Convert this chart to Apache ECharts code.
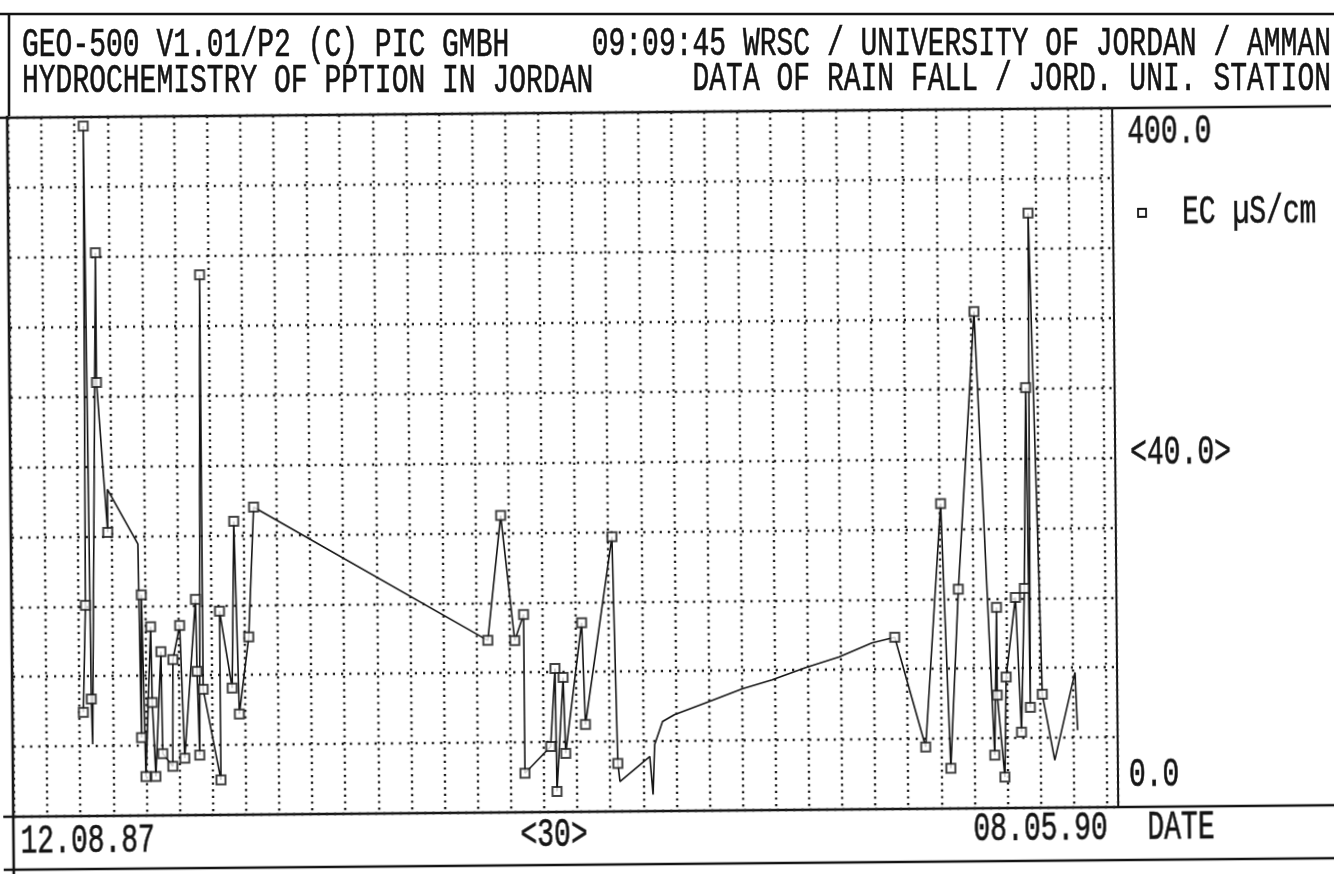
<!DOCTYPE html>
<html>
<head>
<meta charset="utf-8">
<script src="https://cdn.jsdelivr.net/npm/echarts@6/dist/echarts.min.js"></script>
<style>
  html, body { margin: 0; padding: 0; background: #fff; overflow: hidden; }
  #plot, #head { position: absolute; left: 0; top: 0; width: 1334px; height: 874px; }
  /* the plotter sheet sits slightly skewed on the page */
  #plot { transform: rotate(-0.5deg); transform-origin: 667px 437px; }
</style>
</head>
<body>
<div id="plot"></div>
<div id="head"></div>
<script>
// Electrical conductivity of rain water, Jordan University station.
// Day offsets are counted from 12.08.87; the record ends 08.05.90 (day 1000).
const traceDays = [
  63.4, 66.1, 67.9, 70.7, 71.6, 77.9, 77.9, 86.9, 86.9, 114.1,
  115.9, 116.8, 119.6, 125.0, 125.9, 128.6, 134.1, 135.0, 144.0, 144.9,
  151.3, 154.9, 165.8, 166.7, 168.5, 172.1, 172.1, 187.5, 187.5, 198.4,
  201.1, 204.7, 213.8, 219.2,
  430.3, 442.9, 454.7, 462.9, 462.9, 486.4, 490.9, 491.8, 498.2, 500.0,
  515.4, 518.1, 543.5, 547.1, 548.9, 576.1, 578.8, 580.6, 587.9, 598.7,
  629.5, 660.3, 687.5, 717.4, 748.2, 778.1, 798.9,
  826.1, 841.5, 848.7, 856.9, 873.2, 888.6, 891.3, 891.3, 897.6, 899.5,
  908.5, 913.0, 916.7, 919.4, 921.2, 923.0, 932.1, 942.9, 961.9, 963.8
];
// EC in µS/cm at each trace vertex
const ecValues = [
  59.4, 120.6, 394.9, 66.9, 41.1, 322.3, 248.0, 162.3, 186.9, 155.4,
  44.6, 126.3, 22.3, 108.0, 64.6, 22.3, 93.7, 35.4, 28.0, 89.1,
  108.6, 32.6, 123.4, 82.3, 34.3, 309.1, 72.0, 20.0, 116.6, 72.6,
  168.0, 57.7, 101.7, 176.0,
  98.5, 169.9, 98.3, 113.1, 22.3, 37.5, 82.1, 11.8, 76.9, 33.5,
  108.2, 49.9, 157.2, 27.4, 17.1, 31.3, 9.5, 38.1, 51.2, 55.1,
  62.3, 69.5, 74.5, 81.2, 87.3, 95.1, 98.3,
  35.3, 174.6, 23.1, 125.4, 284.2, 30.3, 114.9, 64.6, 17.7, 74.9,
  120.5, 43.3, 125.6, 240.5, 57.5, 340.4, 64.9, 27.1, 77.3, 44.2
];
// 1 = analysed sample (plotted with a marker), 0 = pen path only
const isSample = [
  1, 1, 1, 1, 0, 1, 1, 1, 0, 0,
  1, 1, 1, 1, 1, 1, 1, 1, 1, 1,
  1, 1, 1, 1, 1, 1, 1, 1, 1, 1,
  1, 1, 1, 1,
  1, 1, 1, 1, 1, 1, 1, 1, 1, 1,
  1, 1, 1, 1, 0, 0, 0, 0, 0, 0,
  0, 0, 0, 0, 0, 0, 1,
  1, 1, 1, 1, 1, 1, 1, 1, 1, 1,
  1, 1, 1, 1, 1, 1, 1, 0, 0, 0
];

const dateLabels = ['12.08.87', '<30>', '08.05.90'];   // start, step in days, end
const xAxisName = 'DATE';
const ecLabels = ['400.0', '<40.0>', '0.0'];           // top, step, bottom
const seriesName = 'EC µS/cm';
const headerLeft = ['GEO-500 V1.01/P2 (C) PIC GMBH', 'HYDROCHEMISTRY OF PPTION IN JORDAN'];
const headerRight = ['09:09:45 WRSC / UNIVERSITY OF JORDAN / AMMAN', 'DATA OF RAIN FALL / JORD. UNI. STATION'];

const trace = traceDays.map((d, i) => [d, ecValues[i]]);
const samples = trace.filter((p, i) => isSample[i] === 1);

const INK = '#141414';
const FONT = '28px "Liberation Mono", "DejaVu Sans Mono", monospace';
const G = { left: 11, top: 112, width: 1104, height: 699 };
const G_RIGHT = G.left + G.width, G_BOTTOM = G.top + G.height;

function txt(x, y, text, align) {
  return {
    type: 'text', x: x, y: y, scaleY: 1.42, silent: true,
    style: { text: text, font: FONT, fill: INK, stroke: INK, lineWidth: 0.45,
             align: align || 'left', verticalAlign: 'middle',
             textAlign: align || 'left', textVerticalAlign: 'middle' }
  };
}
function hline(y, x1, x2, w) {
  return { type: 'line', silent: true, shape: { x1: x1, y1: y, x2: x2, y2: y }, style: { stroke: INK, lineWidth: w || 2.6 } };
}
function vline(x, y1, y2, w) {
  return { type: 'line', silent: true, shape: { x1: x, y1: y1, x2: x, y2: y2 }, style: { stroke: INK, lineWidth: w || 2.6 } };
}

const plot = echarts.init(document.getElementById('plot'));
plot.setOption({
  animation: false,
  backgroundColor: 'transparent',
  grid: { left: G.left, top: G.top, width: G.width, height: G.height, show: false },
  xAxis: {
    type: 'value', min: 0, max: 1000, interval: 30,
    axisLine: { show: false }, axisTick: { show: false }, axisLabel: { show: false },
    splitLine: { show: true, lineStyle: { color: '#1e1e1e', width: 2.4, type: [2.2, 4.4] } }
  },
  yAxis: {
    type: 'value', min: 0, max: 400, interval: 40,
    axisLine: { show: false }, axisTick: { show: false }, axisLabel: { show: false },
    splitLine: { show: true, lineStyle: { color: '#1e1e1e', width: 2.4, type: [2.2, 6] } }
  },
  series: [
    { type: 'line', name: seriesName, data: trace, symbol: 'none', z: 3,
      lineStyle: { color: INK, width: 1.6 } },
    { type: 'scatter', name: seriesName, data: samples, symbol: 'rect', symbolSize: 9, z: 4,
      itemStyle: { color: '#fff', borderColor: INK, borderWidth: 2 } }
  ],
  graphic: [
    hline(G.top, -20, 1360),
    hline(G_BOTTOM, -20, 1360),
    hline(864, -20, 1360),
    vline(G_RIGHT, G.top, G_BOTTOM, 2),
    vline(10, G.top - 2, 890),
    txt(G_RIGHT + 15, G.top + 24, ecLabels[0]),
    txt(G_RIGHT + 15, G.top + G.height / 2 - 4, ecLabels[1]),
    txt(G_RIGHT + 11, G_BOTTOM - 32, ecLabels[2]),
    { type: 'rect', silent: true, shape: { x: 1140, y: 213, width: 8, height: 8 },
      style: { fill: '#fff', stroke: INK, lineWidth: 1.8 } },
    txt(1184, 217, seriesName),
    txt(17, 836, dateLabels[0]),
    txt(517, 834, dateLabels[1]),
    txt(970, 832, dateLabels[2]),
    txt(1144, 832, xAxisName)
  ]
});

const head = echarts.init(document.getElementById('head'));
head.setOption({
  animation: false,
  backgroundColor: 'transparent',
  graphic: [
    hline(14, -20, 1360),
    vline(9, 14, 116),
    txt(22, 45, headerLeft[0]),
    txt(22, 81, headerLeft[1]),
    txt(1331, 44, headerRight[0], 'right'),
    txt(1331, 79, headerRight[1], 'right')
  ]
});
</script>
</body>
</html>
